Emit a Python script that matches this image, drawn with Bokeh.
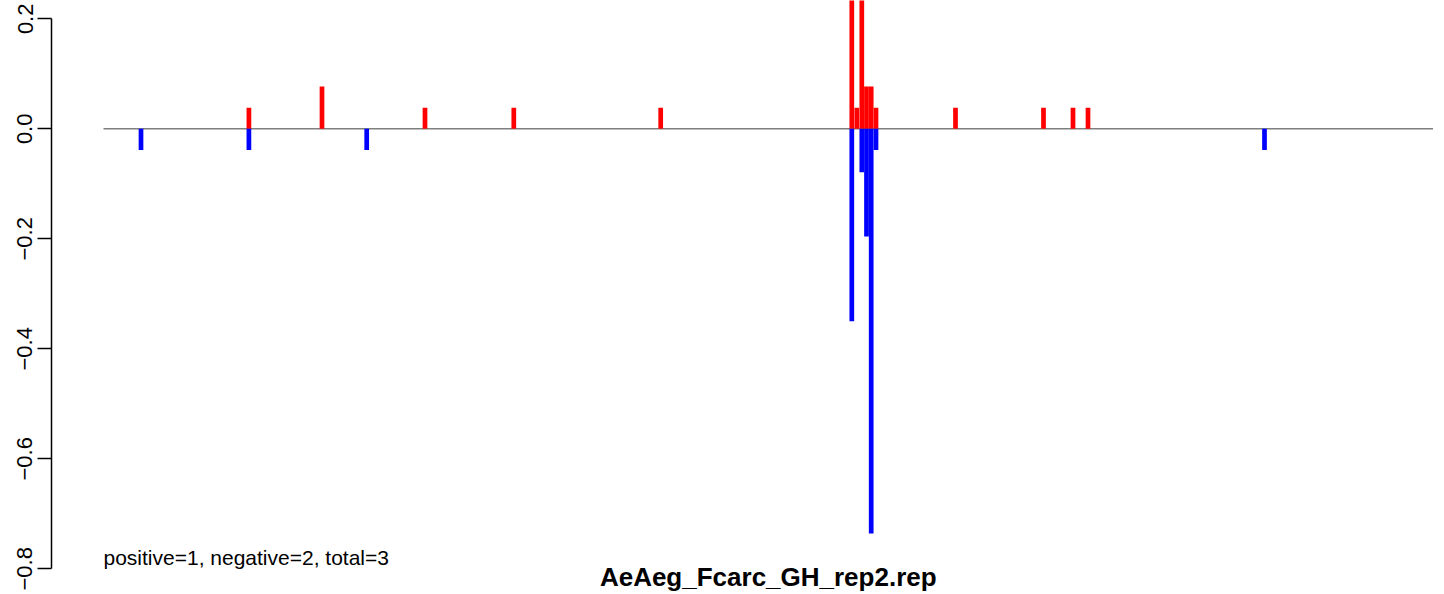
from bokeh.plotting import figure
from bokeh.models import Range1d, FixedTicker
from bokeh.core.properties import value
from bokeh.embed import file_html
from bokeh.resources import INLINE

# ---- data ----
region_start = 0.0
region_end = 1329.5
pos_x = [145.4, 218.5, 321.5, 410.3, 557.2, 748.3, 753.3, 758.3, 763.0, 767.7, 772.5, 852.0, 940.0, 969.5, 984.5]
pos_y = [0.0385, 0.077, 0.0385, 0.0385, 0.0385, 0.30, 0.0385, 0.30, 0.077, 0.077, 0.0385, 0.0385, 0.0385, 0.0385, 0.0385]
neg_x = [37.5, 145.4, 263.2, 748.3, 758.3, 763.0, 767.7, 772.5, 1161.0]
neg_y = [-0.0385, -0.0385, -0.0385, -0.35, -0.079, -0.196, -0.736, -0.0385, -0.0385]
y_ticks = [-0.8, -0.6, -0.4, -0.2, 0.0, 0.2]
y_tick_labels = ["\u22120.8", "\u22120.6", "\u22120.4", "\u22120.2", "0.0", "0.2"]
summary = "positive=1, negative=2, total=3"
title = "AeAeg_Fcarc_GH_rep2.rep"

FONT = "Liberation Sans"

p = figure(width=1444, height=594, output_backend="svg", toolbar_location=None,
           x_range=Range1d(-52, 1341), y_range=Range1d(-0.8467, 0.2333),
           x_axis_location=None,
           min_border_left=51, min_border_right=0, min_border_top=0, min_border_bottom=0)
p.outline_line_color = None
p.grid.visible = False
p.background_fill_color = "white"
p.border_fill_color = "white"

ax = p.yaxis[0]
ax.ticker = FixedTicker(ticks=y_ticks)
ax.major_label_overrides = {t: l for t, l in zip(y_ticks, y_tick_labels)}
ax.bounds = (-0.8, 0.2)
ax.major_label_orientation = "vertical"
ax.major_label_text_font = FONT
ax.major_label_text_font_size = "22px"
ax.major_label_text_color = "black"
ax.major_label_standoff = 5
ax.major_tick_out = 14
ax.major_tick_in = 0
ax.minor_tick_out = 0
ax.minor_tick_in = 0
ax.axis_line_width = 1.5
ax.major_tick_line_width = 1.5
ax.axis_line_color = "black"
ax.major_tick_line_color = "black"

# baseline
p.line([region_start, region_end], [0, 0], line_color="#7f7f7f", line_width=1.6)

# bars
p.segment(x0=pos_x, y0=[0] * len(pos_x), x1=pos_x, y1=pos_y,
          line_color="#ff0000", line_width=4.7, line_cap="butt")
p.segment(x0=neg_x, y0=[0] * len(neg_x), x1=neg_x, y1=neg_y,
          line_color="#0000ff", line_width=4.7, line_cap="butt")

# texts
p.text(x=[region_start], y=[-0.779], text=[summary], text_font=value(FONT),
       text_font_size="21px", text_align="left", text_baseline="alphabetic", text_color="black")
p.text(x=[(region_start + region_end) / 2], y=[-0.8155], text=[title], text_font=value(FONT),
       text_font_size="26px", text_font_style="bold", text_align="center",
       text_baseline="alphabetic", text_color="black")

open("out.html", "w").write(file_html(p, INLINE))
